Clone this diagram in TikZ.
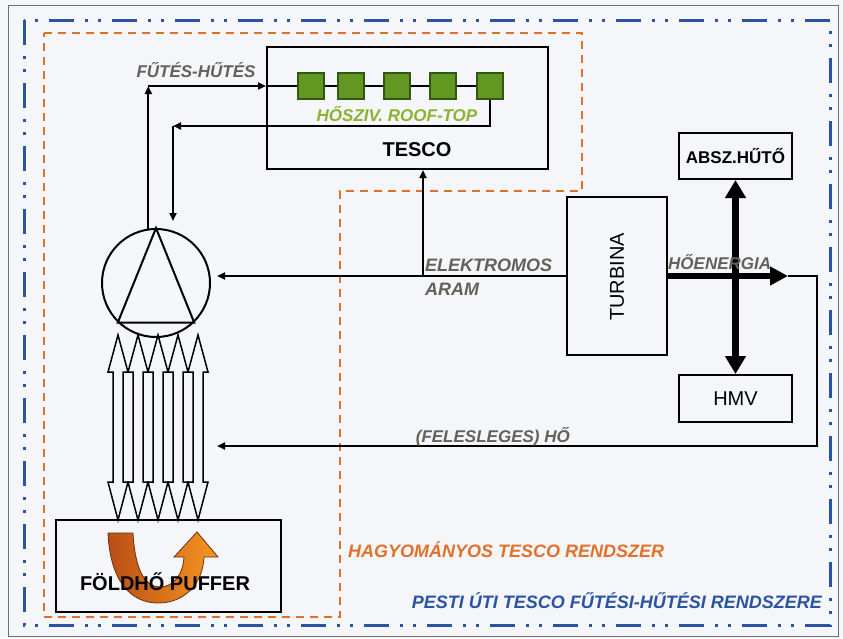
\documentclass[tikz,border=0pt]{standalone}
\usepackage{fontspec}
\setmainfont{Liberation Sans}
\usetikzlibrary{arrows.meta,positioning,calc}

\definecolor{paper}{RGB}{244,246,249}
\definecolor{framegray}{RGB}{110,110,110}
\definecolor{frameblue}{RGB}{42,82,165}
\definecolor{frameorange}{RGB}{226,112,42}
\definecolor{sqgreen}{RGB}{98,152,34}
\definecolor{sqdark}{RGB}{52,86,20}
\definecolor{labgreen}{RGB}{140,178,48}
\definecolor{labgray}{RGB}{98,98,90}
\definecolor{burnt}{RGB}{185,78,22}
\definecolor{amber}{RGB}{246,150,32}
\definecolor{umber}{RGB}{110,48,12}

\begin{document}
\begin{tikzpicture}[x=1pt,y=-1pt,
    pipe/.style={line width=2pt},
    flow/.style={pipe, -{Triangle[length=8pt,width=7pt]}},
    box/.style={draw, line width=2pt, inner sep=0pt},
    sq/.style={draw=sqdark, fill=sqgreen, line width=1.2pt, minimum size=26pt, inner sep=0pt},
    hollow/.style={draw, fill=paper, line width=1.5pt, line join=miter},
    lab/.style={inner sep=0pt, text=labgray, font=\fontsize{17}{17}\selectfont\bfseries\itshape},
    big/.style={inner sep=0pt, font=\fontsize{20}{20}\selectfont\bfseries},
    plain/.style={inner sep=0pt, font=\fontsize{20}{20}\selectfont},
]
            % Paper and frames
            \fill[paper] (0,0) rectangle (843,638);
            \useasboundingbox (0,0) rectangle (843,638);
            \draw[framegray, line width=1pt] (8,5) rectangle (838,636);
            \draw[frameblue, line width=3pt, dash pattern=on 25pt off 11pt on 3pt off 10pt on 3pt off 11pt] (24,20) rectangle (830,625);
            \draw[frameorange, line width=2.2pt, dash pattern=on 8pt off 6pt] (44,33) -- (582,33) -- (582,191) -- (340,191) -- (340,617) -- (44,617) -- cycle;

            % Boxes
            \node[box, minimum width=281pt, minimum height=122pt] (tesco) at (407.5,108) {};
            \node[box, minimum width=100pt, minimum height=158pt] (turb) at (617,276) {};
            \node[box, minimum width=113pt, minimum height=46pt, font=\fontsize{17}{17}\selectfont\bfseries] (absz) at (735.5,156) {ABSZ.HŰTŐ};
            \node[box, minimum width=113pt, minimum height=47pt, font=\fontsize{20}{20}\selectfont] (hmv) at (735.5,398.5) {HMV};
            \node[box, minimum width=225pt, minimum height=92pt] (puffer) at (168.5,566) {};
            \node[circle, draw, line width=2pt, minimum size=108pt, inner sep=0pt] (hp) at (156,283) {};
            \draw[line width=2pt] (hp.north) -- (hp.-134) -- (hp.-46) -- cycle;

            % Roof-top units
            \foreach \x [count=\i] in {311,351,397,443,490}
                \node[sq] (s\i) at (\x,86) {};
            \draw[pipe] (tesco.west |- s1) -- (s1.west);
            \foreach \i/\j in {1/2,2/3,3/4,4/5}
                \draw[pipe] (s\i.east) -- (s\j.west);

            % Heating-cooling loop
            \coordinate (up) at (hp.98 |- s1);
            \coordinate (rt) at (173,126);
            \draw[flow] (hp.98) -- (up);
            \draw[flow] (up) -- (tesco.west |- s1);
            \draw[flow] (s5.south) |- (rt);
            \draw[flow] (rt) -- ($(hp.north)+(17,-7)$);

            % Electricity
            \coordinate (el) at (423,276);
            \draw[flow] (turb.west) -- ($(hp.east |- turb.west)+(6,0)$);
            \draw[flow] (el) -- (el |- tesco.south);

            % Heat
            \coordinate (he) at (788,276);
            \coordinate (hr) at (817,446);
            \draw[line width=6.5pt, -{Triangle[length=18pt,width=18pt]}] (turb.east) -- (he);
            \draw[flow] (he) -| (hr) -- ($(hp.east |- hr)+(6,0)$);
            \draw[line width=6.5pt, {Triangle[length=18pt,width=20pt]}-{Triangle[length=18pt,width=20pt]}] (absz.south) -- (hmv.north);

            % Ground exchanger
            \foreach \x in {118,138,158,178,198}
                \draw[hollow] (\x,335) -- (\x+10,372) -- (\x+5,372) -- (\x+5,482) -- (\x+10,482) -- (\x,520)
                    -- (\x-10,482) -- (\x-5,482) -- (\x-5,372) -- (\x-10,372) -- cycle;
            \path[draw=umber, line width=0.8pt, left color=burnt, right color=amber]
                (108,533) .. controls (110,580) and (130,603) .. (158,603)
                .. controls (186,603) and (203,582) .. (204,557)
                -- (218,557) -- (197,532) -- (174,557) -- (184,557)
                .. controls (183,575) and (173,587) .. (160,587)
                .. controls (145,587) and (135,570) .. (133,533) -- cycle;

            % Labels
            \node[lab] (fh) at (196,70) {FŰTÉS-HŰTÉS};
            \node[lab, text=labgreen] (roof) at (397,114) {HŐSZIV. ROOF-TOP};
            \node[big] (tescolab) at (417,150) {TESCO};
            \node[lab, font=\fontsize{18}{18}\selectfont\bfseries\itshape, anchor=west] (elek) at (425,265) {ELEKTROMOS};
            \node[lab, font=\fontsize{18}{18}\selectfont\bfseries\itshape, anchor=west] (aram) at (425,289) {ARAM};
            \node[lab, anchor=west] (heat) at (668,262) {HŐENERGIA};
            \node[lab, anchor=east] (fel) at (570,437) {(FELESLEGES) HŐ};
            \node[plain, rotate=90] (turblab) at (617,277) {TURBINA};
            \node[big] (pufflab) at (165,582) {FÖLDHŐ PUFFER};
            \node[lab, font=\fontsize{18}{18}\selectfont\bfseries\itshape, text=frameorange, anchor=west] (hagy) at (348,550) {HAGYOMÁNYOS TESCO RENDSZER};
            \node[lab, font=\fontsize{18}{18}\selectfont\bfseries\itshape, text=frameblue, anchor=east] (pesti) at (822,601) {PESTI ÚTI TESCO FŰTÉSI-HŰTÉSI RENDSZERE};

        \end{tikzpicture}
\end{document}
